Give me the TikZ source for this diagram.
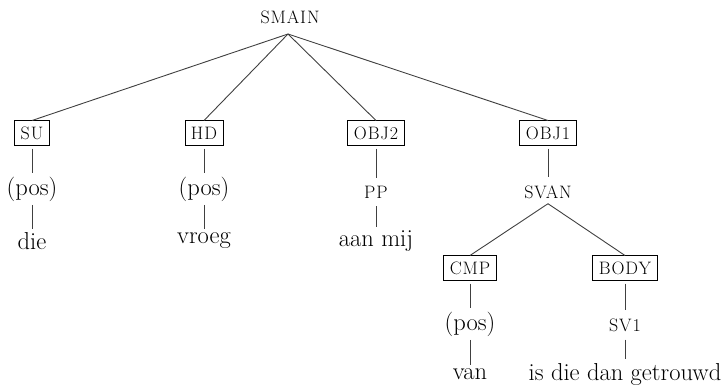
\documentclass[tikz,border=0pt]{standalone}
\usepackage{fontspec}
\setmainfont{Latin Modern Roman}
\newcommand{\labelfont}{\fontsize{18}{21}\selectfont\addfontfeatures{LetterSpace=5}}
\begin{document}
\begin{tikzpicture}[x=1pt,y=-1pt,
  word/.style={font=\fontsize{24.5}{28}\selectfont, inner xsep=0pt, inner ysep=0.5pt},
  cat/.style={font=\labelfont, inner xsep=0pt, inner ysep=5pt},
  rel/.style={draw, line width=0.9pt, font=\labelfont,
    inner xsep=6pt, inner ysep=3pt, minimum height=25pt, outer sep=0pt},
  edge/.style={line width=0.9pt, draw=black!75},
]
\useasboundingbox (0,0) rectangle (726,388);
% root
\node[cat] (smain) at (290,17) {SMAIN};
\coordinate (top) at (288,34);
% relation boxes
\node[rel] (su)   at (32,133)  {SU};
\node[rel] (hd)   at (204,133) {HD};
\node[rel] (obj2) at (376,133) {OBJ2};
\node[rel] (obj1) at (548,133) {OBJ1};
% second level
\node[word] (pos1) at (32,189)  {(pos)};
\node[word] (pos2) at (204,189) {(pos)};
\node[cat] (pp)   at (376,192) {PP};
\node[cat] (svan) at (548,192) {SVAN};
% words
\node[word] (w1) at (32,241)  {die};
\node[word] (w2) at (204,241) {vroeg};
\node[word] (w3) at (376,241) {aan mij};
% lower subtree
\node[rel] (cmp)  at (470,268) {CMP};
\node[rel] (body) at (625,268) {BODY};
\node[word] (pos3) at (470,324) {(pos)};
\node[cat] (sv1) at (625,325) {SV1};
\node[word] (w4) at (470,374) {van};
\node[word] (w5) at (625,374) {is die dan getrouwd};
% connectors
\foreach \n in {su,hd,obj2,obj1} \draw[edge] (top) -- (\n.north);
\foreach \a/\b in {su/pos1,hd/pos2,obj2/pp,obj1/svan,cmp/pos3,body/sv1,
                   pos1/w1,pos2/w2,pp/w3,pos3/w4,sv1/w5}
  \draw[edge, shorten <=3pt, shorten >=3pt] (\a.south) -- (\b.north);
\draw[edge] (svan.south) -- (cmp.north);
\draw[edge] (svan.south) -- (body.north);
\end{tikzpicture}
\end{document}
